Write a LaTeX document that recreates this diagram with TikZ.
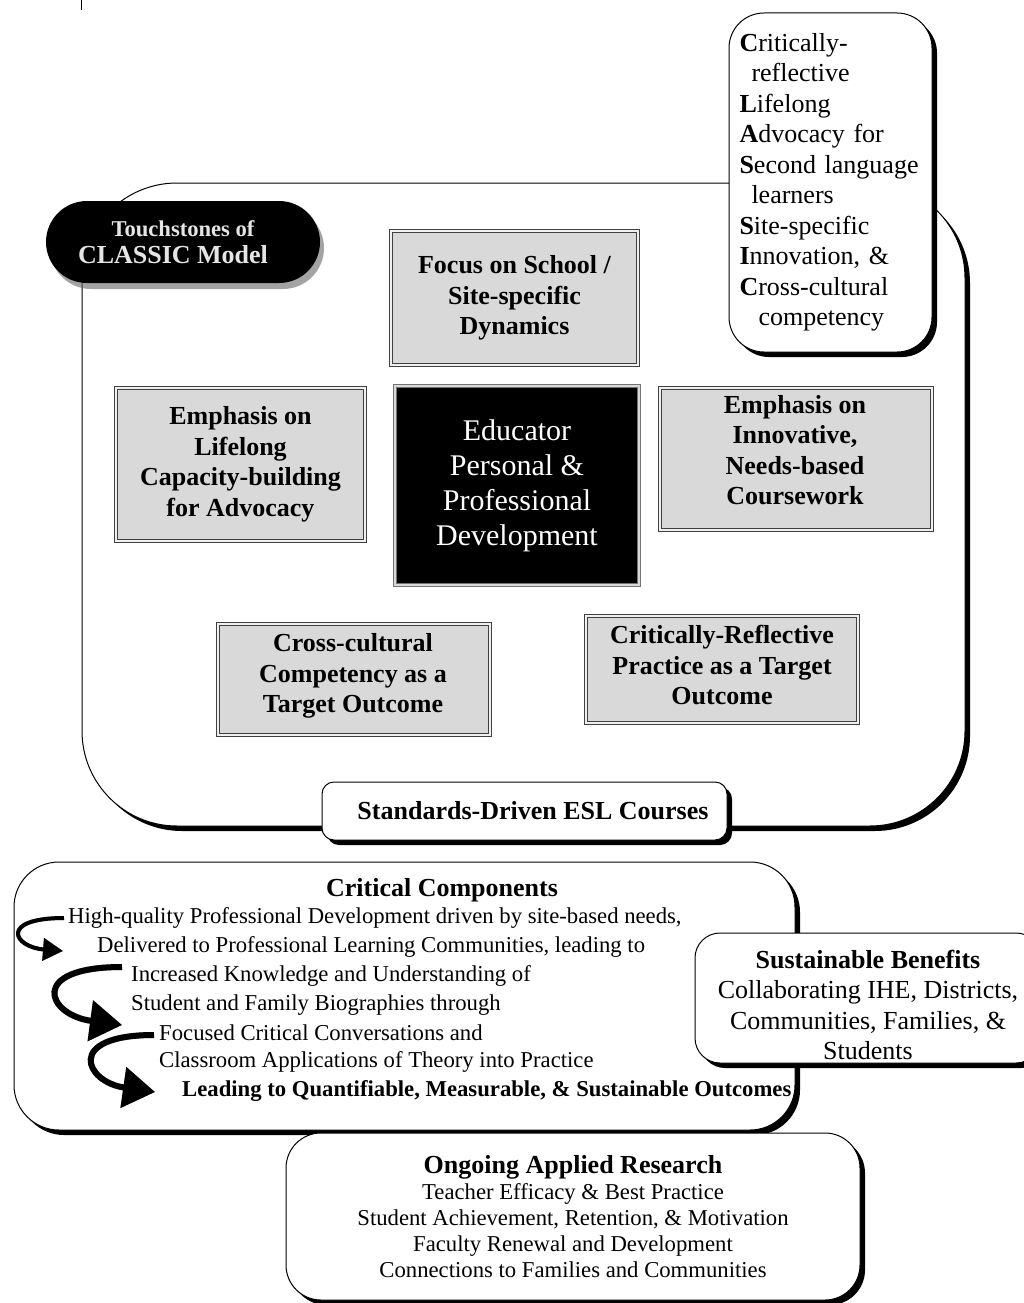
\documentclass[tikz,border=0pt]{standalone}
\usepackage{fontspec}
\setmainfont{Liberation Serif}
\usetikzlibrary{arrows.meta,shadows}
\newcommand\fbig{\fontsize{26pt}{30.5pt}\selectfont}
\newcommand\fsmall{\fontsize{22.7pt}{26pt}\selectfont}
\newcommand\fhuge{\fontsize{30pt}{35pt}\selectfont}

\begin{document}
\begin{tikzpicture}[x=1pt, y=-1pt,
	rbox/.style={draw, fill=white, line width=1pt, align=center, inner sep=0pt,
		drop shadow={shadow xshift=5pt, shadow yshift=-5pt, fill=black, opacity=1}},
	graybox/.style={draw=black!75, double=black!6, double distance=1.6pt, line width=1.1pt,
		fill=black!15, align=center, inner sep=0pt, font=\fbig\bfseries},
	boxtxt/.style={align=center, inner sep=0pt, font=\fbig\bfseries},
	listtxt/.style={anchor=west, inner sep=0pt, font=\fsmall},
	curl/.style={line width=6pt, -{Triangle[length=32pt, width=40pt]}}
	]
		%%%%% START %%%%%
		\useasboundingbox (0,0) rectangle (1023,1303);
		
		\draw (81,0) -- (81,10);
		
		% big frame
		\node[rbox, rounded corners=95pt, minimum width=883pt, minimum height=643pt] (frame) at (523.5,504.5) {};
		
		\node[fill=black, rounded corners=41pt, minimum width=274pt, minimum height=82pt, align=center,
			text=black!10, font=\fontsize{26pt}{27pt}\selectfont\bfseries,
			drop shadow={shadow xshift=4pt, shadow yshift=-6pt, fill=black!60, opacity=0.6}] (touchst) at (183,242)
			{{\fontsize{22.6pt}{27pt}\selectfont Touchstones of}\\CLASSIC Model\hspace*{20pt}};
		
		\node[rbox, rounded corners=35pt, minimum width=203pt, minimum height=339pt, text width=182pt,
			align=left, font=\fbig] (classic) at (830.5,182.5)
			{\textbf{C}ritically-\\\hspace*{12pt}reflective\\\textbf{L}ifelong\\\textbf{A}dvocacy for\\\textbf{S}econd language\\\hspace*{12pt}learners\\\textbf{S}ite-specific\\\textbf{I}nnovation, \&\\\textbf{C}ross-cultural\\\hspace*{19pt}competency};
		
		\node[graybox, minimum width=247pt, minimum height=134pt] (focus) at (514.5,298) {Focus on School /\\Site-specific\\Dynamics};
		\node[graybox, minimum width=249pt, minimum height=153pt] (lifelong) at (240.5,464.5) {Emphasis on\\Lifelong\\Capacity-building\\for Advocacy};
		\node[graybox, draw=black!55, double=white!85!black, fill=black, text=white, font=\fhuge,
			minimum width=244pt, minimum height=199pt] (educ) at (517,485.5) {Educator\\Personal \&\\Professional\\Development};
		\node[graybox, minimum width=272pt, minimum height=142pt] (innov) at (796,459) {};
		\node[boxtxt] (innovtxt) at (795,450) {Emphasis on\\Innovative,\\Needs-based\\Coursework};
		\node[graybox, minimum width=272pt, minimum height=111pt] (crosscult) at (354,679.5) {};
		\node[boxtxt] (crosscultxt) at (353,676) {Cross-cultural\\Competency as a\\Target Outcome};
		\node[graybox, minimum width=272pt, minimum height=107pt] (critrefl) at (722,669.5) {};
		\node[boxtxt] (critrefltxt) at (722,665) {Critically-Reflective\\Practice as a Target\\Outcome};
		
		\node[rbox, rounded corners=12pt, minimum width=405pt, minimum height=58pt, font=\fbig\bfseries] (stds) at (524.5,811)
			{\hspace*{17pt}Standards-Driven ESL Courses};
		
		% critical components
		\node[rbox, rounded corners=45pt, minimum width=781pt, minimum height=268pt] (crit) at (404.5,996) {};
		\node[inner sep=0pt, font=\fbig\bfseries] (crithead) at (442,890) {Critical Components};
		\node[listtxt] (l1) at (68,918) {High-quality Professional Development driven by site-based needs,};
		\node[listtxt] (l2) at (97,947) {Delivered to Professional Learning Communities, leading to};
		\node[listtxt] (l3) at (131,976) {Increased Knowledge and Understanding of};
		\node[listtxt] (l4) at (131,1005) {Student and Family Biographies through};
		\node[listtxt] (l5) at (159,1033) {Focused Critical Conversations and};
		\node[listtxt] (l6) at (159,1062) {Classroom Applications of Theory into Practice};
		\node[listtxt, font=\fsmall\bfseries] (l7) at (182,1091) {Leading to Quantifiable, Measurable, \& Sustainable Outcomes};
		
		\coordinate (a1s) at (64,918);
		\coordinate (a1e) at (63,951);
		\coordinate (a2s) at (122,967);
		\coordinate (a2e) at (122,1025);
		\coordinate (a3s) at (154,1035);
		\coordinate (a3e) at (155,1092);
		
		\draw[curl, line width=4pt, -{Triangle[length=20pt, width=22pt]}, color=black!35, shift={(3,3)}] (a1s) .. controls +(-65,0) and +(-50,-4) .. (a1e);
		\draw[curl, line width=4pt, -{Triangle[length=20pt, width=22pt]}] (a1s) .. controls +(-65,0) and +(-50,-4) .. (a1e);
		\draw[curl, color=black!35, shift={(3,3)}] (a2s) .. controls +(-95,0) and +(-75,-10) .. (a2e);
		\draw[curl] (a2s) .. controls +(-95,0) and +(-75,-10) .. (a2e);
		\draw[curl, color=black!35, shift={(3,3)}] (a3s) .. controls +(-90,0) and +(-70,-10) .. (a3e);
		\draw[curl] (a3s) .. controls +(-90,0) and +(-70,-10) .. (a3e);
		
		\node[rbox, rounded corners=25pt, minimum width=346pt, minimum height=130pt] (sust) at (868,998) {};
		\node[align=center, inner sep=0pt, font=\fbig] (susttxt) at (868,1005)
			{\textbf{Sustainable Benefits}\\Collaborating IHE, Districts,\\Communities, Families, \&\\Students};
		
		\node[rbox, rounded corners=35pt, minimum width=574pt, minimum height=167pt, font=\fsmall] (ongoing) at (573,1216.5)
			{{\fbig\bfseries Ongoing Applied Research}\\Teacher Efficacy \& Best Practice\\Student Achievement, Retention, \& Motivation\\Faculty Renewal and Development\\Connections to Families and Communities};
		%%%%% END %%%%%
	\end{tikzpicture}
\end{document}
